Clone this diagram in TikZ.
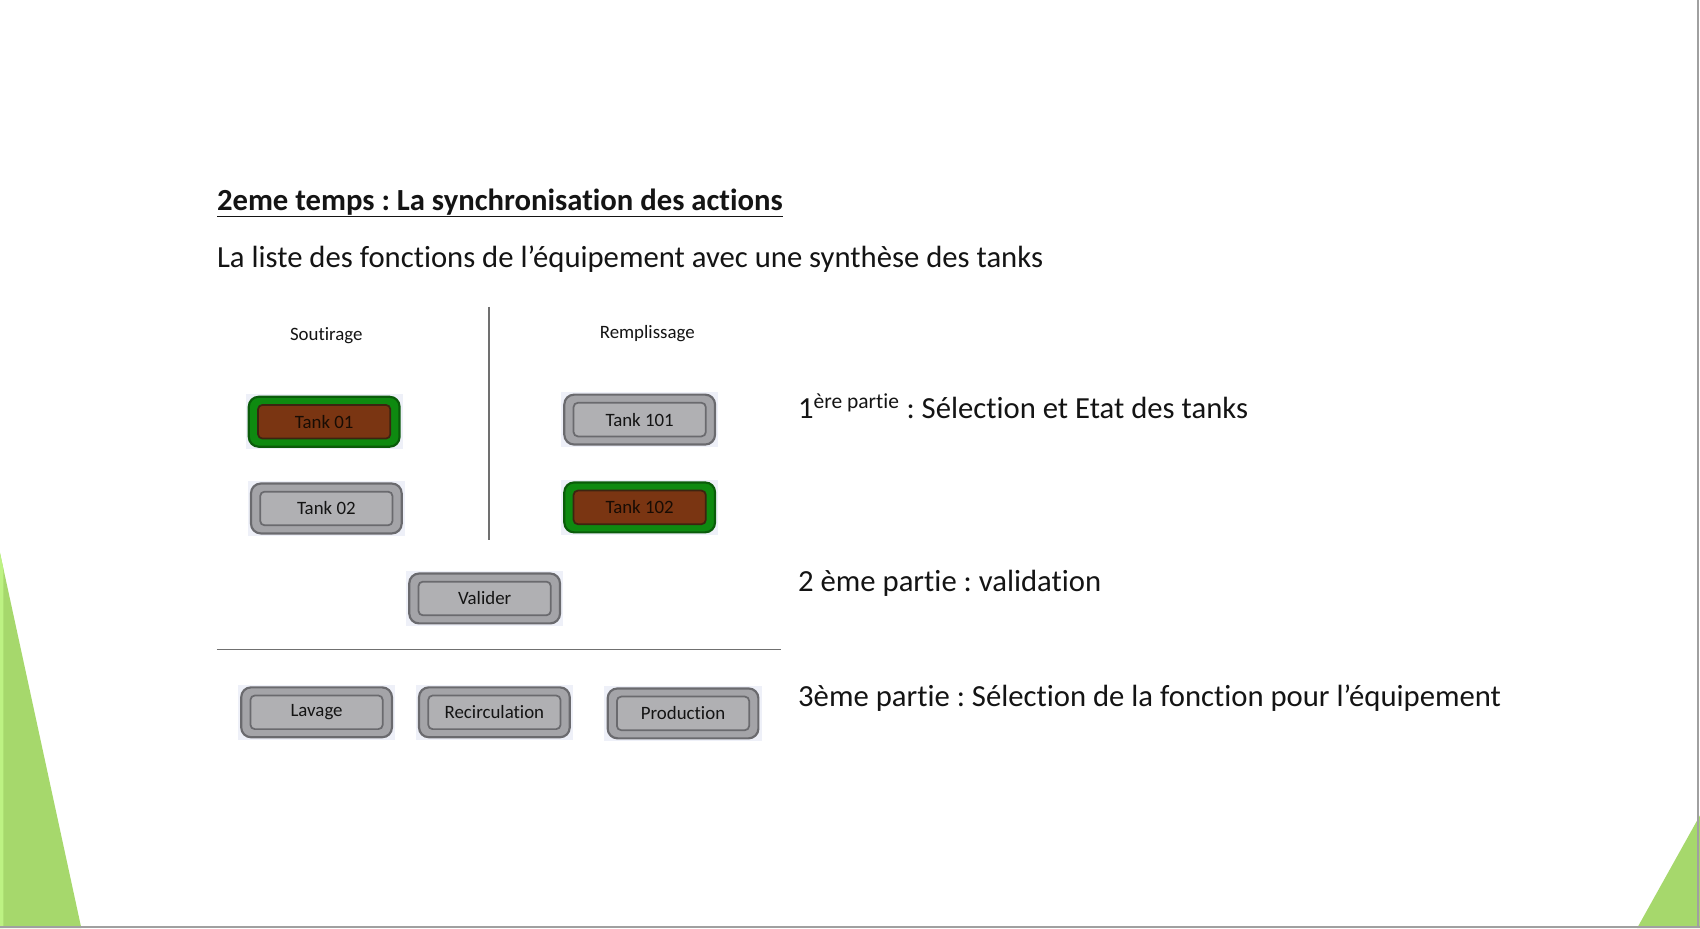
\documentclass[tikz,border=0pt]{standalone}
\usepackage{fontspec}
\setmainfont{Carlito}[Ligatures=NoCommon]
\frenchspacing
\begin{document}
\begin{tikzpicture}[x=1pt,y=-1pt,
  hl/.style={fill=hlcol,draw=none,minimum width=145pt,minimum height=51pt,inner sep=0pt},
  outergrey/.style={fill=gout,draw=gbord,line width=2pt,rounded corners=9pt,minimum width=139pt,minimum height=46pt,inner sep=0pt},
  innergrey/.style={fill=gin,draw=gbord,line width=1.6pt,rounded corners=4pt,minimum width=122pt,minimum height=31pt,inner sep=0pt,font=\fontsize{17.4}{19}\selectfont,text=txtc},
  outergreen/.style={fill=grn,draw=grnb,line width=2pt,rounded corners=9pt,minimum width=139pt,minimum height=46pt,inner sep=0pt},
  innerbrown/.style={fill=brn,draw=brnb,line width=1.6pt,rounded corners=4pt,minimum width=122pt,minimum height=31pt,inner sep=0pt,font=\fontsize{17.4}{19}\selectfont,text=txtd},
  big/.style={anchor=base west,inner sep=0pt,font=\fontsize{28.3}{32}\selectfont,text=txtc},
  small/.style={anchor=base,inner sep=0pt,font=\fontsize{17.4}{19}\selectfont,text=txtc},
  sep/.style={draw=sepc,line width=1.6pt}
]
\definecolor{hlcol}{HTML}{EEF0F8}
\definecolor{gout}{HTML}{A4A4A8}
\definecolor{gin}{HTML}{B0B0B3}
\definecolor{gbord}{HTML}{6A6A6E}
\definecolor{grn}{HTML}{0E8A10}
\definecolor{grnb}{HTML}{0A5C0A}
\definecolor{brn}{HTML}{7A3512}
\definecolor{brnb}{HTML}{3C2410}
\definecolor{txtc}{HTML}{141414}
\definecolor{txtd}{HTML}{180C04}
\definecolor{sepc}{HTML}{707070}
\definecolor{lgreen}{HTML}{A6D86C}
\definecolor{lgreen2}{HTML}{BDF283}
\definecolor{framec}{HTML}{A0A0A0}

\useasboundingbox (0,0) rectangle (1568,856);
\fill[white] (0,0) rectangle (1568,856);

% decorative green triangles and frame
\fill[lgreen] (0,510) -- (75,856) -- (0,856) -- cycle;
\fill[lgreen2] (0,510) -- (3,524) -- (3,856) -- (0,856) -- cycle;
\fill[lgreen] (1568,752) -- (1568,856) -- (1510,856) -- cycle;
\draw[framec,line width=2pt] (1566,0) -- (1566,856);
\draw[framec,line width=2pt] (0,855) -- (1568,855);

% title texts
\node[big,font=\fontsize{28.3}{32}\selectfont\bfseries] (title) at (200,194) {\underline{2eme temps : La synchronisation des actions}};
\node[big] (subtitle) at (200,247) {La liste des fonctions de l’équipement avec une synthèse des tanks};

% section labels
\node[small] (sout) at (301,314) {Soutirage};
\node[small] (remp) at (597,312) {Remplissage};

% separators
\coordinate (vtop) at (451,283);
\coordinate (vbot) at (451,498);
\draw[sep] (vtop) -- (vbot);
\coordinate (hl1) at (200,599);
\coordinate (hr1) at (720,599);
\draw[sep] (hl1) -- (hr1);

% Tank 01 (selected)
\node[hl] (t01h) at (299,389) {};
\node[outergreen] (t01o) at (299,389) {};
\node[innerbrown] (t01) at (299,389) {Tank 01};
% Tank 02
\node[hl] (t02h) at (301,469) {};
\node[outergrey] (t02o) at (301,469) {};
\node[innergrey] (t02) at (301,469) {Tank 02};
% Tank 101
\node[hl] (t101h) at (590,387) {};
\node[outergrey] (t101o) at (590,387) {};
\node[innergrey] (t101) at (590,387) {Tank 101};
% Tank 102 (selected)
\node[hl] (t102h) at (590,468) {};
\node[outergreen] (t102o) at (590,468) {};
\node[innerbrown] (t102) at (590,468) {Tank 102};
% Valider
\node[hl] (valh) at (447,552) {};
\node[outergrey] (valo) at (447,552) {};
\node[innergrey] (val) at (447,552) {Valider};
% functions
\node[hl] (lavh) at (292,657) {};
\node[outergrey] (lavo) at (292,657) {};
\node[innergrey] (lav) at (292,657) {Lavage};
\node[hl] (rech) at (456,657) {};
\node[outergrey] (reco) at (456,657) {};
\node[innergrey] (rec) at (456,657) {Recirculation};
\node[hl] (prodh) at (630,658) {};
\node[outergrey] (prodo) at (630,658) {};
\node[innergrey] (prod) at (630,658) {Production};

% right-hand descriptions
\node[big] (p1) at (736,386) {1\textsuperscript{ère partie} : Sélection et Etat des tanks};
\node[big] (p2) at (736,546) {2 ème partie : validation};
\node[big] (p3) at (736,652) {3ème partie : Sélection de la fonction pour l’équipement};
\end{tikzpicture}
\end{document}
